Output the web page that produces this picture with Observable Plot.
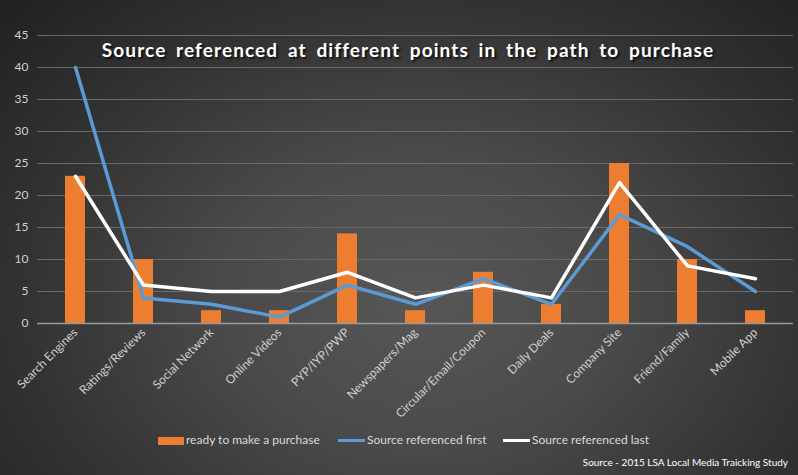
<!DOCTYPE html>
<html>
<head>
<meta charset="utf-8">
<script src="https://cdn.jsdelivr.net/npm/d3@7"></script>
<script src="https://cdn.jsdelivr.net/npm/@observablehq/plot@0.6"></script>
<style>
  html, body { margin: 0; padding: 0; background: #2a2a2a; }
  #wrap {
    position: relative; width: 798px; height: 475px; overflow: hidden;
    background: radial-gradient(ellipse 560px 420px at 420px 300px, #575757 0%, #4a4a4a 35%, #333 70%, #222 100%);
    font-family: Lato, sans-serif;
  }
  #title {
    position: absolute; left: 0; width: 816px; top: 38px; text-align: center;
    color: #fff; font-weight: 700; font-size: 19px; letter-spacing: 1.1px; word-spacing: 4px;
    text-shadow: 2px 2px 2px rgba(0,0,0,0.7);
  }
  #legend { position: absolute; top: 432px; left: 0; width: 798px; height: 20px; font-size: 12px; color: #d9d9d9; }
  #legend .item { position: absolute; top: 0; white-space: nowrap; }
  #legend .sw { display: inline-block; vertical-align: middle; margin-right: 2px; }
  #source { position: absolute; right: 10px; top: 456px; font-size: 10px; color: #fff; }
  svg { position: absolute; left: 0; top: 0; background: transparent; }
</style>
</head>
<body>
<div id="wrap">
  <div id="chart"></div>
  <div id="title">Source referenced at different points in the path to purchase</div>
  <div id="legend">
    <span class="item" style="left:158px"><span class="sw" style="width:26px;height:8px;background:#ed7d31"></span>ready to make a purchase</span>
    <span class="item" style="left:338px"><span class="sw" style="width:27px;height:3px;background:#5b9bd5"></span>Source referenced first</span>
    <span class="item" style="left:503px"><span class="sw" style="width:27px;height:3px;background:#fff"></span>Source referenced last</span>
  </div>
  <div id="source">Source - 2015 LSA Local Media Traicking Study</div>
</div>
<script>
const categories = ["Search Engines","Ratings/Reviews","Social Network","Online Videos","PYP/IYP/PWP","Newspapers/Mag","Circular/Email/Coupon","Daily Deals","Company Site","Friend/Family","Mobile App"];
const readyToPurchase = [23,10,2,2,14,2,8,3,25,10,2];
const referencedFirst = [40,4,3,1,6,3,7,3,17,12,5];
const referencedLast = [23,6,5,5,8,4,6,4,22,9,7];
const yTicks = [0,5,10,15,20,25,30,35,40,45];

const bars = categories.map((c,i)=>({cat:c, v:readyToPurchase[i]}));
const first = categories.map((c,i)=>({cat:c, v:referencedFirst[i]}));
const last = categories.map((c,i)=>({cat:c, v:referencedLast[i]}));

const chart = Plot.plot({
  width: 798,
  height: 420,
  marginLeft: 37,
  marginRight: 5,
  marginTop: 35,
  marginBottom: 97,
  style: {background: "transparent", color: "#cfcfcf", fontFamily: "Lato, sans-serif", fontSize: "12px"},
  x: {domain: categories, padding: 0, label: null, tickRotate: -45, tickSize: 0, tickPadding: 7},
  y: {domain: [0,45], ticks: yTicks, label: null, tickSize: 0, tickPadding: 9, grid: false},
  marks: [
    Plot.gridY(yTicks.filter(d=>d>0), {stroke: "#6a6a6a", strokeOpacity: 1, strokeWidth: 1}),
    Plot.barY(bars, {x: "cat", y: "v", fill: "#ed7d31", insetLeft: 24, insetRight: 24}),
    Plot.ruleY([0], {stroke: "#9a9a9a", strokeWidth: 1.3}),
    Plot.lineY(first, {x: "cat", y: "v", stroke: "#5b9bd5", strokeWidth: 3.5, strokeLinejoin: "round", strokeLinecap: "round"}),
    Plot.lineY(last, {x: "cat", y: "v", stroke: "#ffffff", strokeWidth: 3.5, strokeLinejoin: "round", strokeLinecap: "round", style: "filter: drop-shadow(1px 1px 1px rgba(0,0,0,0.5))"})
  ]
});
document.getElementById("chart").appendChild(chart);
</script>
</body>
</html>
